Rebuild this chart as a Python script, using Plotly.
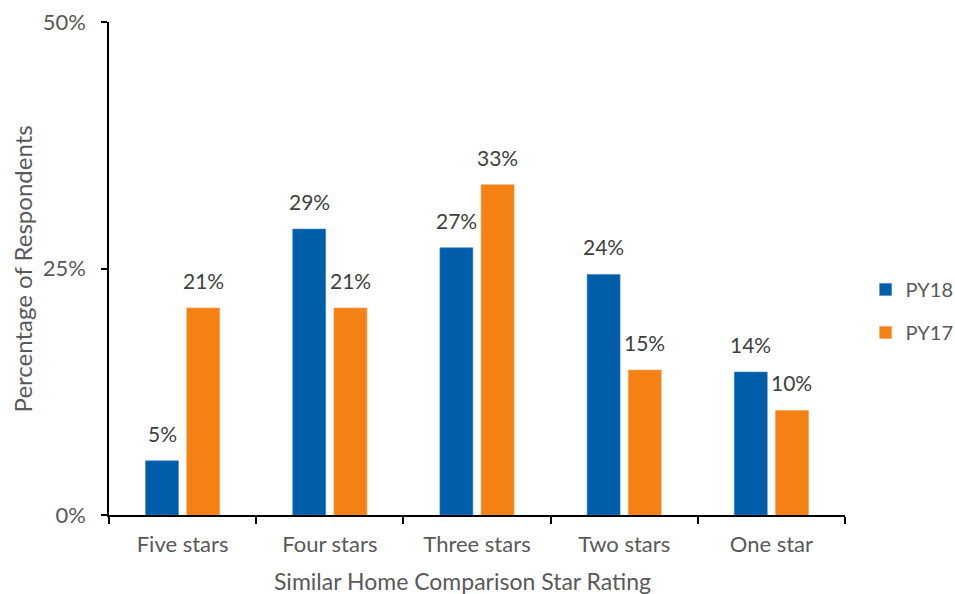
import plotly.graph_objects as go

categories = ["Five stars", "Four stars", "Three stars", "Two stars", "One star"]
py18 = [5.5, 29.0, 27.1, 24.4, 14.5]
py17 = [21.0, 21.0, 33.5, 14.7, 10.6]
py18_labels = ["5%", "29%", "27%", "24%", "14%"]
py17_labels = ["21%", "21%", "33%", "15%", "10%"]
y_ticks = [0, 25, 50]
y_tick_labels = ["0%", "25%", "50%"]
x_title = "Similar Home Comparison Star Rating"
y_title = "Percentage of Respondents"

FONT = "Lato, Carlito, Calibri, sans-serif"
BLUE = "#005DAA"
ORANGE = "#F58114"
GRAY = "#595959"
DARK = "#404040"

fig = go.Figure()
fig.add_trace(go.Bar(name="PY18", x=categories, y=py18, legendgroup="a",
                     marker=dict(color=BLUE, line=dict(color="#3f86c4", width=0.6))))
fig.add_trace(go.Bar(name="PY17", x=categories, y=py17, legendgroup="b",
                     marker=dict(color=ORANGE, line=dict(color="#f7a052", width=0.6))))

for vals, labs, shift in [(py18, py18_labels, -20.5), (py17, py17_labels, 20.5)]:
    for c, v, l in zip(categories, vals, labs):
        fig.add_annotation(x=c, y=v, text=l, xref="x", yref="y", showarrow=False,
                           xshift=shift, yshift=13, yanchor="bottom",
                           font=dict(family=FONT, size=21, color=DARK))

fig.add_annotation(text=x_title, xref="paper", yref="paper", x=0.48, y=-0.134,
                   xanchor="center", yanchor="middle", showarrow=False,
                   font=dict(family=FONT, size=23, color=GRAY))
fig.add_annotation(text=y_title, xref="paper", yref="paper", x=-0.117, y=0.5,
                   xanchor="center", yanchor="middle", textangle=-90, showarrow=False,
                   font=dict(family=FONT, size=24, color=GRAY))

fig.update_layout(
    width=955, height=594,
    margin=dict(l=109, r=110, t=22, b=79, autoexpand=False),
    paper_bgcolor="white", plot_bgcolor="white",
    barmode="group", bargap=0.44, bargroupgap=0.2,
    font=dict(family=FONT, size=20, color=GRAY),
    legend=dict(x=1.028, y=0.414, xanchor="left", yanchor="middle",
                font=dict(family=FONT, size=20, color=GRAY),
                itemwidth=30, tracegroupgap=14, traceorder="grouped"),
    showlegend=True,
)
fig.update_xaxes(
    automargin=False,
    showline=True, linecolor="black", linewidth=1.5,
    ticks="outside", tickson="boundaries", ticklen=7, tickcolor="black", tickwidth=1.5,
    tickfont=dict(family=FONT, size=22, color=GRAY),
    ticklabelstandoff=9,
    showgrid=False, zeroline=False,
)
fig.update_yaxes(
    automargin=False,
    range=[0, 50], tickvals=y_ticks, ticktext=y_tick_labels,
    showline=True, linecolor="black", linewidth=1.5,
    ticks="outside", ticklen=6, tickcolor="black", tickwidth=1.5,
    tickfont=dict(family=FONT, size=22, color=GRAY),
    ticklabelstandoff=11,
    showgrid=False, zeroline=False,
)
fig.write_html("out.html", config={"displayModeBar": False},
               post_script="document.body.style.margin='0';document.body.style.overflow='hidden';")
